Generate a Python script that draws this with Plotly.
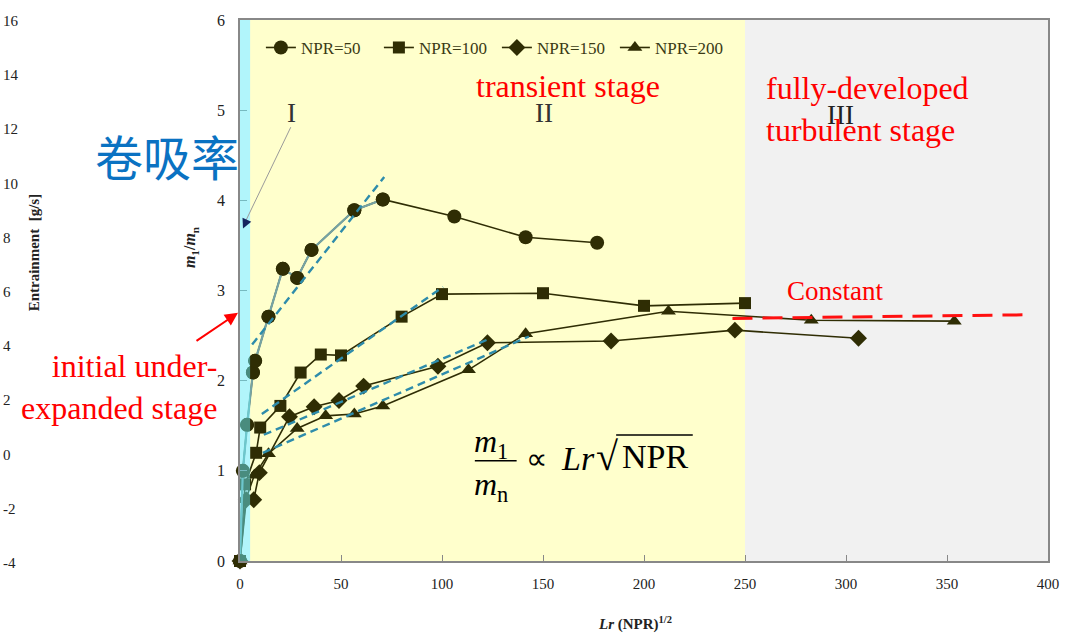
import plotly.graph_objects as go

# ---------------- data ----------------
npr50_x = [0, 1.4, 3.5, 6.4, 7.5, 14.1, 21.2, 28.3, 35.4, 56.6, 70.7, 106.1, 141.4, 176.8]
npr50_y = [0, 1.00, 1.51, 2.09, 2.22, 2.71, 3.24, 3.14, 3.45, 3.89, 4.01, 3.82, 3.59, 3.53]
npr100_x = [0, 2.5, 8, 10, 20, 30, 40, 50, 80, 100, 150, 200, 250]
npr100_y = [0, 0.85, 1.20, 1.48, 1.72, 2.09, 2.29, 2.28, 2.71, 2.96, 2.97, 2.83, 2.86]
npr150_x = [0, 3.1, 6.8, 9.6, 24.5, 36.7, 49.0, 61.2, 98.0, 122.5, 183.7, 245.0, 306.2]
npr150_y = [0, 0.68, 0.68, 0.98, 1.60, 1.71, 1.78, 1.94, 2.16, 2.42, 2.44, 2.56, 2.47]
npr200_x = [0, 2.8, 7.1, 14.1, 28.3, 42.4, 56.6, 70.7, 113.1, 141.4, 212.1, 282.8, 353.6]
npr200_y = [0, 0.68, 0.95, 1.19, 1.47, 1.61, 1.63, 1.72, 2.12, 2.52, 2.77, 2.67, 2.66]

series_names = ["NPR=50", "NPR=100", "NPR=150", "NPR=200"]
series_symbols = ["circle", "square", "diamond", "triangle-up"]

# dashed linear-trend guides (start/end points)
fit50_x, fit50_y = [6.0, 71.4], [2.40, 4.26]
fit100_x, fit100_y = [10.8, 100.5], [1.63, 3.04]
fit150_x, fit150_y = [11.8, 123.0], [1.40, 2.46]
fit200_x, fit200_y = [11.3, 143.0], [1.20, 2.49]

# constant level in stage III
const_x, const_y = [243.8, 388.0], [2.69, 2.73]

# stage boundaries
stage_edges = [0, 5, 250, 400]

# left (background) entrainment axis tick labels
ent_ticks = [16, 14, 12, 10, 8, 6, 4, 2, 0, -2, -4]

x_ticks = [0, 50, 100, 150, 200, 250, 300, 350, 400]
y_ticks = [0, 1, 2, 3, 4, 5, 6]

# ---------------- layout geometry helpers ----------------
W, H = 1071, 635
L, R, T, B = 240, 1052, 16, 561


def px2x(px):
    return (px - L) / (R - L) * 400


def py2y(py):
    return (B - py) / (B - T) * 6


def ppx(px):
    return (px - L) / (R - L)


def ppy(py):
    return (B - py) / (B - T)


DARK = "#2f2d04"
SERIF = "Liberation Serif"

fig = go.Figure()

# main series
all_x = [npr50_x, npr100_x, npr150_x, npr200_x]
all_y = [npr50_y, npr100_y, npr150_y, npr200_y]
sizes = [14, 12, 13, 13]
for name, sym, xs, ys, sz in zip(series_names, series_symbols, all_x, all_y, sizes):
    fig.add_trace(go.Scatter(
        x=xs, y=ys, name=name, mode="lines+markers",
        line=dict(color=DARK, width=1.6),
        marker=dict(symbol=sym, size=sz, color=DARK),
        cliponaxis=False,
    ))

# lighter early segment of NPR=50
fig.add_trace(go.Scatter(
    x=npr50_x[:11], y=npr50_y[:11], mode="lines", showlegend=False,
    line=dict(color="#76a3a3", width=2.2), hoverinfo="skip"))
fig.add_trace(go.Scatter(
    x=npr50_x[:11], y=npr50_y[:11], mode="markers", showlegend=False,
    marker=dict(symbol="circle", size=14, color=DARK), hoverinfo="skip"))

# dashed guides
for fx, fy in [(fit50_x, fit50_y), (fit100_x, fit100_y), (fit150_x, fit150_y), (fit200_x, fit200_y)]:
    fig.add_trace(go.Scatter(
        x=fx, y=fy, mode="lines", showlegend=False, hoverinfo="skip",
        line=dict(color="#2e8cab", width=2.4, dash="8px,5px")))

# constant line
fig.add_trace(go.Scatter(
    x=const_x, y=const_y, mode="lines", showlegend=False, hoverinfo="skip",
    line=dict(color="#ff1010", width=3, dash="20px,10px")))

shapes = [
    dict(type="rect", xref="x", yref="y", x0=stage_edges[1], x1=stage_edges[2], y0=0, y1=6,
         fillcolor="#ffffcc", line=dict(width=0), layer="below"),
    dict(type="rect", xref="x", yref="y", x0=stage_edges[2], x1=stage_edges[3], y0=0, y1=6,
         fillcolor="#f1f1f1", line=dict(width=0), layer="below"),
    dict(type="rect", xref="x", yref="y", x0=stage_edges[0], x1=stage_edges[1], y0=0, y1=6,
         fillcolor="rgba(100,235,248,0.5)", line=dict(width=0), layer="above"),
    dict(type="line", xref="x", yref="y", x0=px2x(291), y0=py2y(124), x1=px2x(245), y1=py2y(220),
         line=dict(color="#9a9a9a", width=1), layer="above"),
    dict(type="line", xref="x", yref="y", x0=px2x(476), x1=px2x(518), y0=py2y(460), y1=py2y(460),
         line=dict(color="black", width=1.5), layer="above"),
    dict(type="line", xref="x", yref="y", x0=px2x(618), x1=px2x(695), y0=py2y(434), y1=py2y(434),
         line=dict(color="black", width=1.5), layer="above"),
]

ann = []


def txt(x, y, s, size, color="black", xanchor="center", yanchor="middle", ref="data", family=SERIF, **kw):
    d = dict(text=s, showarrow=False, font=dict(family=family, size=size, color=color),
             xanchor=xanchor, yanchor=yanchor)
    if ref == "data":
        d.update(x=px2x(x), y=py2y(y), xref="x", yref="y")
    else:
        d.update(x=ppx(x), y=ppy(y), xref="paper", yref="paper")
    d.update(kw)
    ann.append(d)


# stage numerals
txt(292, 110, "I", 27, "#333333")
txt(545, 110, "II", 27, "#333333")
txt(843, 112, "III", 27, "#222222")

# red stage labels
txt(570, 82, "transient stage", 32, "red")
txt(767, 106, "fully-developed<br>turbulent stage", 32, "red", xanchor="left", align="left")
txt(838, 289, "Constant", 27, "red")
txt(219, 386, "initial under-<br>expanded stage", 32, "red", xanchor="right", align="right", ref="paper")

# red arrow
ann.append(dict(x=ppx(238), y=ppy(311), xref="paper", yref="paper", ax=-43, ay=29,
                showarrow=True, arrowhead=2, arrowsize=1.3, arrowwidth=2, arrowcolor="red", text=""))
# navy arrowhead of "I" leader
ann.append(dict(x=px2x(243), y=py2y(226), xref="x", yref="y", ax=4, ay=-9,
                showarrow=True, arrowhead=2, arrowsize=1.6, arrowwidth=1.2, arrowcolor="#14245e", text=""))

# formula
txt(492, 443, "<i>m</i><sub>1</sub>", 32)
txt(492, 486, "<i>m</i><sub>n</sub>", 32)
txt(538, 458, "\u221d", 30)
txt(580, 458, "<i>Lr</i>", 34)
txt(609, 456, "\u221a", 40)
txt(657, 456, "NPR", 34)

# Chinese title
ann.append(dict(text="卷吸率", x=ppx(241), y=ppy(152), xref="paper", yref="paper", showarrow=False,
                xanchor="right", yanchor="middle",
                font=dict(family="Noto Sans CJK SC", size=48, color="#0a72c2")))

# background entrainment axis labels
for v in ent_ticks:
    py = 17 + (16 - v) * (546 / 20)
    ann.append(dict(text=str(v), x=ppx(0), y=ppy(py), xref="paper", yref="paper", showarrow=False,
                    xanchor="left", yanchor="middle", font=dict(family=SERIF, size=15, color="#222")))
ann.append(dict(text="<b>Entrainment  [g/s]</b>", x=ppx(23), y=ppy(250), xref="paper", yref="paper",
                showarrow=False, textangle=-90, font=dict(family=SERIF, size=15, color="#222")))

# axis titles
ann.append(dict(text="<b><i>m</i><sub>1</sub>/<i>m</i><sub>n</sub></b>", x=ppx(179), y=ppy(245),
                xref="paper", yref="paper", showarrow=False, textangle=-90,
                font=dict(family=SERIF, size=16, color="#222")))
ann.append(dict(text="<b><i>Lr</i> (NPR)<sup>1/2</sup></b>", x=ppx(637), y=ppy(636),
                xref="paper", yref="paper", showarrow=False, yanchor="bottom",
                font=dict(family=SERIF, size=15, color="#222")))

fig.update_layout(
    width=W, height=H,
    margin=dict(l=L, r=W - R - 4, t=T - 3, b=H - B),
    paper_bgcolor="white", plot_bgcolor="white",
    font=dict(family=SERIF, size=14, color="#222"),
    shapes=shapes, annotations=ann,
    showlegend=True,
    legend=dict(orientation="h", x=ppx(261), y=ppy(26), xanchor="left", yanchor="top",
                bgcolor="rgba(0,0,0,0)", font=dict(family=SERIF, size=17, color="#3a3a14"),
                itemwidth=30, entrywidth=73, entrywidthmode="pixels", tracegroupgap=0),
    xaxis=dict(range=[0, 400], tickvals=x_ticks, ticks="inside", ticklen=6, tickcolor="#888",
               showgrid=False, zeroline=False, showline=True, linecolor="#888", linewidth=1.5,
               mirror=True, ticklabelstandoff=8, tickfont=dict(family=SERIF, size=15)),
    yaxis=dict(range=[0, 6], tickvals=y_ticks, ticks="inside", ticklen=7, tickcolor="#888",
               showgrid=False, zeroline=False, showline=True, linecolor="#888", linewidth=1.5,
               mirror=True, ticklabelstandoff=10, tickfont=dict(family=SERIF, size=16)),
)

fig.write_html("out.html", config={"displayModeBar": False},
               post_script="document.body.style.margin='0';document.body.style.padding='0';")
